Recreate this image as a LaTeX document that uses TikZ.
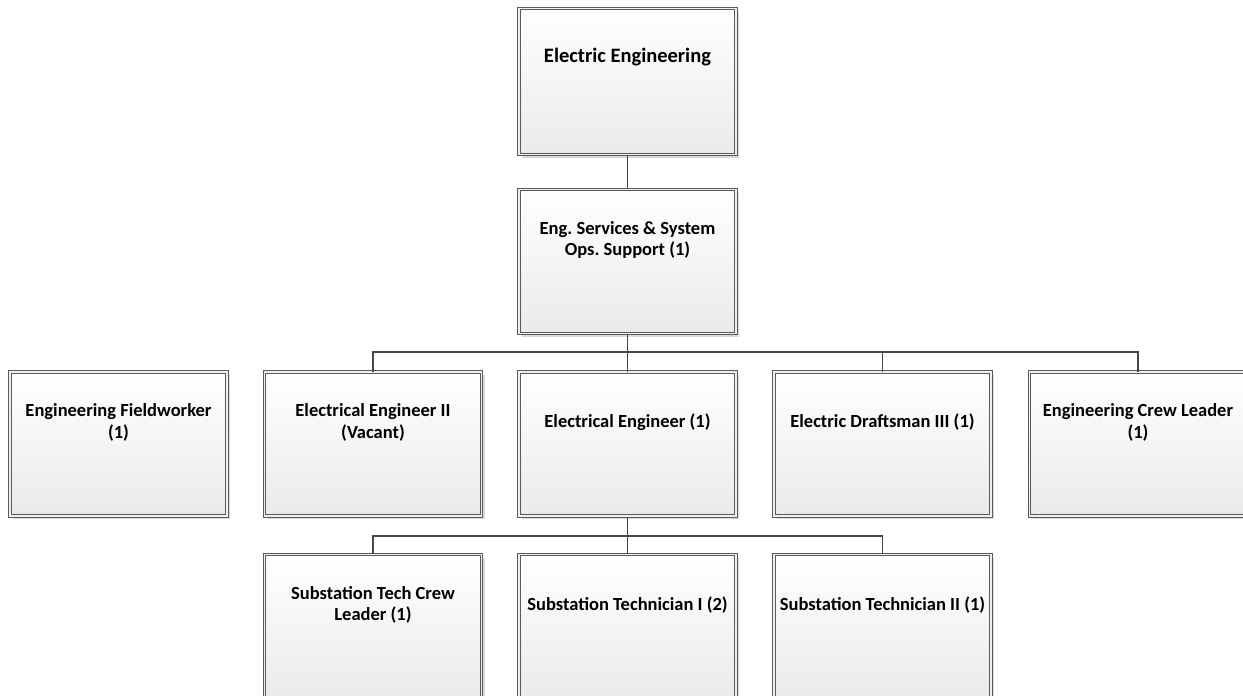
\documentclass[tikz,border=0pt]{standalone}
\usepackage{fontspec}
\setmainfont{Carlito}
\frenchspacing
\usetikzlibrary{shadows}
\definecolor{boxline}{RGB}{90,90,90}
\definecolor{conn}{RGB}{70,70,70}
\definecolor{shade}{RGB}{218,218,218}
\definecolor{boxbot}{RGB}{234,234,234}
\begin{document}
\begin{tikzpicture}[x=1pt,y=-1pt,
  orgbox/.style={rectangle, draw=boxline, line width=1pt, double=white!94!black, double distance=1.8pt,
    top color=white, bottom color=boxbot, minimum width=217pt, minimum height=144pt, inner sep=0pt,
    drop shadow={shadow xshift=3pt, shadow yshift=-3pt, fill=shade, opacity=1}},
  boxtext/.style={align=center, font=\bfseries\fontsize{18.5}{21.5}\selectfont, inner sep=0pt},
  link/.style={draw=conn, line width=1.6pt}]
\useasboundingbox (0,0) rectangle (1243,696);
% boxes
\node[orgbox, minimum height=146pt] (ee) at (627.5,81.5) {};
\node[boxtext, font=\bfseries\fontsize{20.5}{24}\selectfont] (eet) at ([yshift=-49pt]ee.north) {Electric Engineering};
\node[orgbox] (ops) at (627.5,261.5) {};
\node[boxtext] (opst) at ([yshift=-51pt]ops.north) {Eng. Services \& System\\Ops. Support (1)};
\node[orgbox] (fw) at (118.5,444) {};
\node[boxtext] (fwt) at ([yshift=-51pt]fw.north) {Engineering Fieldworker\\(1)};
\node[orgbox] (e2) at (373,444) {};
\node[boxtext] (e2t) at ([yshift=-51pt]e2.north) {Electrical Engineer II\\(Vacant)};
\node[orgbox] (e1) at (627.5,444) {};
\node[boxtext] (e1t) at ([yshift=-51pt]e1.north) {Electrical Engineer (1)};
\node[orgbox] (ds) at (882.5,444) {};
\node[boxtext] (dst) at ([yshift=-51pt]ds.north) {Electric Draftsman III (1)};
\node[orgbox] (cl) at (1138,444) {};
\node[boxtext] (clt) at ([yshift=-51pt]cl.north) {Engineering Crew Leader\\(1)};
\node[orgbox] (st) at (373,626.5) {};
\node[boxtext] (stt) at ([yshift=-51pt]st.north) {Substation Tech Crew\\Leader (1)};
\node[orgbox] (s1) at (627.5,626.5) {};
\node[boxtext] (s1t) at ([yshift=-51pt]s1.north) {Substation Technician I (2)};
\node[orgbox] (s2) at (882.5,626.5) {};
\node[boxtext] (s2t) at ([yshift=-51pt]s2.north) {Substation Technician II (1)};
% connectors
\coordinate (bus1) at (627.5,352);
\coordinate (bus2) at (627.5,536);
\draw[link] (ee.south) -- (ops.north);
\draw[link] (ops.south) -- (bus1);
\draw[link] (bus1) -| (e2.north);
\draw[link] (bus1) -- (e1.north);
\draw[link] (bus1) -| (ds.north);
\draw[link] (bus1) -| (cl.north);
\draw[link] (e1.south) -- (bus2);
\draw[link] (bus2) -| (st.north);
\draw[link] (bus2) -- (s1.north);
\draw[link] (bus2) -| (s2.north);
\end{tikzpicture}
\end{document}
